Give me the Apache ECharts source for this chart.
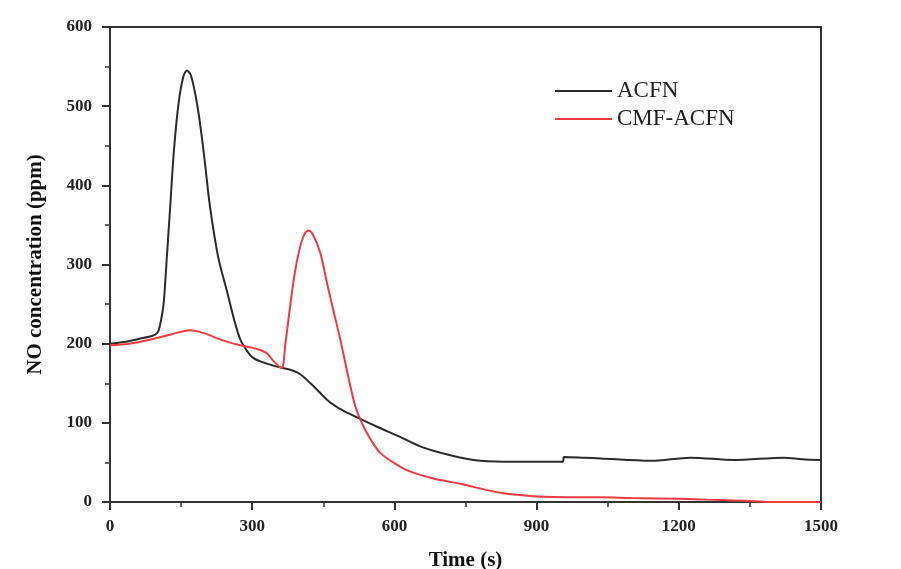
<!DOCTYPE html>
<html><head><meta charset="utf-8">
<script src="https://cdn.jsdelivr.net/npm/echarts@6/dist/echarts.min.js"></script>
<style>html,body{margin:0;padding:0;background:#fff}#c{width:901px;height:569px}</style>
</head><body><div id="c"></div>
<script>
const acfnTime = [0,30,60,90,100,105,113,120,127,135,145,155,162,170,180,190,200,211,228,246,262,275,290,302,320,352,380,400,430,460,490,521,560,613,660,718,767,830,894,955,958,1000,1035,1141,1225,1317,1422,1460,1500];
const acfnValue = [200,202,206,210,214,222,250,310,373,445,505,538,545,540,515,478,430,373,310,268,230,205,190,182,177,171,167,162,146,128,116,107,96,82,69,59,53,51,51,51,57,56,55,52,56,53,56,54,53];
const cmfTime = [0,40,84,130,169,200,225,250,275,300,317,331,345,362,370,380,390,401,410,419,428,444,458,472,486,502,518,535,550,570,600,627,680,739,796,830,860,900,965,1035,1100,1204,1260,1317,1360,1390,1450,1500];
const cmfValue = [198,200,205,212,217,213,207,202,198,195,192,188,178,169,200,247,290,322,338,343,338,314,276,240,205,160,120,95,79,62,49,40,30,23,15,11,9,7,6,6,5,4,3,2,1,0,0,0];
const seriesNames = ['ACFN','CMF-ACFN'];
const xTicks = [0,300,600,900,1200,1500];
const yTicks = [0,100,200,300,400,500,600];

const zip = (a,b)=>a.map((v,i)=>[v,b[i]]);
const chart = echarts.init(document.getElementById('c'));
const axisCommon = {
  axisLine:{show:true,onZero:false,lineStyle:{color:'#333',width:2}},
  axisTick:{show:true,inside:false,length:8,lineStyle:{color:'#333',width:2}},
  minorTick:{show:true,splitNumber:2,length:5,lineStyle:{color:'#333',width:1.5}},
  splitLine:{show:false},
  axisLabel:{color:'#222',fontFamily:'Liberation Serif',fontWeight:'bold',fontSize:17,formatter:v=>String(v)},
  nameTextStyle:{color:'#111',fontFamily:'Liberation Serif',fontWeight:'bold',fontSize:21}
};
chart.setOption({
  animation:false,
  backgroundColor:'#fff',
  grid:{left:110,right:80,top:27,bottom:67,outerBoundsMode:'none',containLabel:false,show:true,borderColor:'#333',borderWidth:2,backgroundColor:'transparent'},
  legend:{orient:'vertical',left:550,top:74,itemWidth:57,itemHeight:2,itemGap:4,icon:'rect',
    textStyle:{fontFamily:'Liberation Serif',fontSize:23,lineHeight:24,color:'#222'},
    data:seriesNames},
  xAxis:Object.assign({},axisCommon,{type:'value',min:xTicks[0],max:xTicks[xTicks.length-1],interval:300,
    name:'Time (s)',nameLocation:'middle',nameGap:48,
    axisLabel:Object.assign({},axisCommon.axisLabel,{margin:16})}),
  yAxis:Object.assign({},axisCommon,{type:'value',min:yTicks[0],max:yTicks[yTicks.length-1],interval:100,
    name:'NO concentration (ppm)',nameLocation:'middle',nameGap:64,
    axisLabel:Object.assign({},axisCommon.axisLabel,{margin:18})}),
  series:[
    {name:seriesNames[0],type:'line',data:zip(acfnTime,acfnValue),symbol:'none',smooth:0.3,
      lineStyle:{color:'#2b2b2b',width:2},itemStyle:{color:'#2b2b2b'}},
    {name:seriesNames[1],type:'line',data:zip(cmfTime,cmfValue),symbol:'none',smooth:0.3,
      lineStyle:{color:'#f03a42',width:2},itemStyle:{color:'#f03a42'}}
  ]
});
</script></body></html>
